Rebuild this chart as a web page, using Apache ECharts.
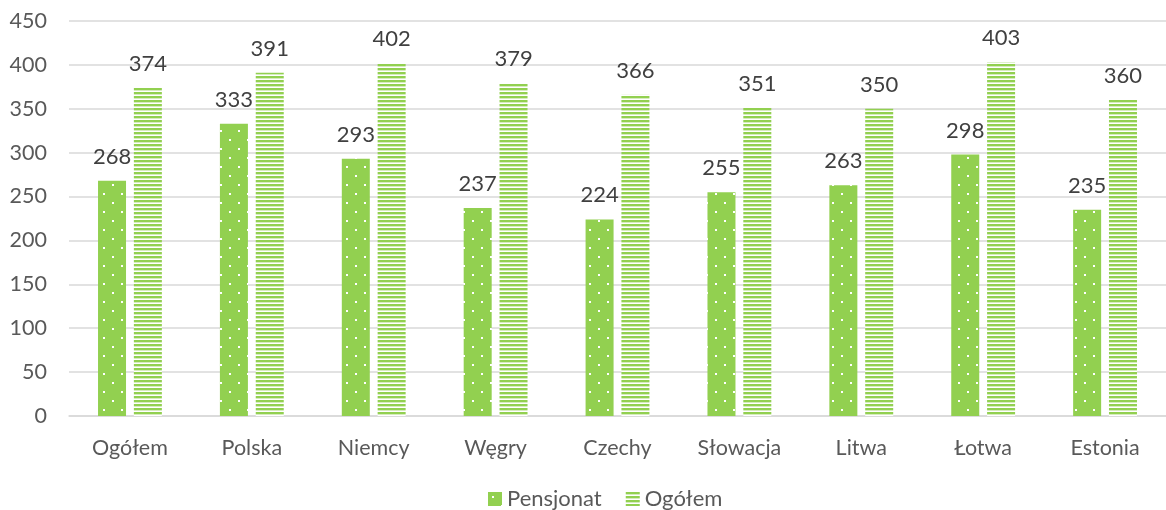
<!DOCTYPE html>
<html><head><meta charset="utf-8">
<script src="https://cdn.jsdelivr.net/npm/echarts@6/dist/echarts.min.js"></script>
<style>html,body{margin:0;padding:0;background:#fff}#c{width:1166px;height:510px}</style>
</head><body><div id="c"></div>
<script>
const categories = ['Ogółem','Polska','Niemcy','Węgry','Czechy','Słowacja','Litwa','Łotwa','Estonia'];
const pensjonat = [268,333,293,237,224,255,263,298,235];
const ogolem = [374,391,402,379,366,351,350,403,360];
const yTicks = [0,50,100,150,200,250,300,350,400,450];

function dots(){
  const c=document.createElement('canvas');c.width=18;c.height=18;
  const g=c.getContext('2d');g.fillStyle='#92D050';g.fillRect(0,0,18,18);
  g.fillStyle='#ffffff';g.fillRect(4,4,2,2);g.fillRect(13,13,2,2);
  return c;
}
function stripes(){
  const c=document.createElement('canvas');c.width=8;c.height=4;
  const g=c.getContext('2d');g.fillStyle='#ffffff';g.fillRect(0,0,8,4);
  g.fillStyle='#92D050';g.fillRect(0,0,8,2);
  g.fillStyle='#d6ecbd';g.fillRect(0,2,8,1);
  return c;
}
const font='Lato, sans-serif';
const chart=echarts.init(document.getElementById('c'));
chart.setOption({
  animation:false,
  grid:{left:69,right:0,top:21,bottom:94},
  xAxis:{type:'category',data:categories,
    axisLine:{lineStyle:{color:'#d9d9d9',width:1.5}},axisTick:{show:false},
    axisLabel:{color:'#595959',fontSize:21.5,fontFamily:font,margin:21}},
  yAxis:{type:'value',min:0,max:450,interval:50,
    axisLabel:{color:'#595959',fontSize:21.5,fontFamily:font,margin:22,
      formatter:v=>String(yTicks[yTicks.indexOf(v)])}},
  legend:{top:483,left:483,itemWidth:14,itemHeight:14,itemGap:24,icon:'rect',
    textStyle:{color:'#595959',fontSize:22,fontFamily:font,padding:[0,0,0,0]},
    data:['Pensjonat','Ogółem']},
  series:[
    {name:'Pensjonat',type:'bar',data:pensjonat,barWidth:28,barGap:'28%',
     itemStyle:{color:{image:dots(),repeat:'repeat'}},
     label:{show:true,position:'top',distance:13,color:'#404040',fontSize:22,fontFamily:font}},
    {name:'Ogółem',type:'bar',data:ogolem,barWidth:28,
     itemStyle:{color:{image:stripes(),repeat:'repeat'}},
     label:{show:true,position:'top',distance:13,color:'#404040',fontSize:22,fontFamily:font}}
  ]
});
chart.setOption({yAxis:{splitLine:{lineStyle:{color:'#d9d9d9',width:1.5}},axisLine:{show:false},axisTick:{show:false}}});
</script></body></html>
